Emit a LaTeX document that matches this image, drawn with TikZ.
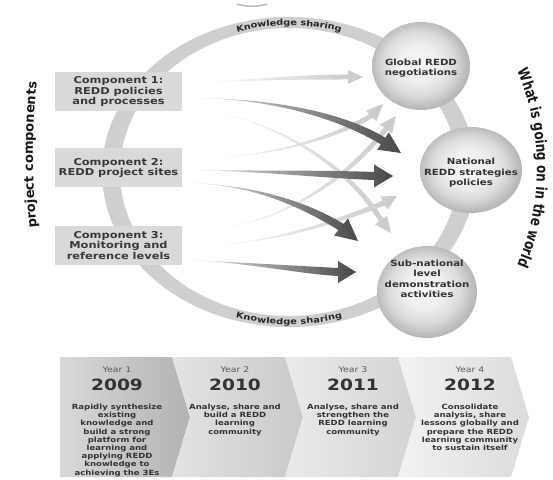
\documentclass[tikz,border=0pt]{standalone}
\usepackage{fontspec}
\setmainfont{DejaVu Sans}[FakeStretch=1.2]
\newfontfamily\plainsans{DejaVu Sans}
\newfontfamily\narrowsans{DejaVu Sans}[FakeStretch=0.8]
\usetikzlibrary{calc,decorations.text,shapes.geometric}

% soft grey sphere: light centre, darker rim
\pgfdeclareradialshading{spherefill}{\pgfpoint{-2bp}{2bp}}{%
  color(0bp)=(gray!6); color(10bp)=(gray!12); color(18bp)=(gray!28);
  color(23bp)=(gray!48); color(25bp)=(gray!56); color(50bp)=(gray!56)}

% Tapered, shaded arrow: #1 tail, #2/#3 controls, #4 head base, #5 tip,
% #6 shaft half-width at the head, #7 head half-width, #8 shading style
\newcommand\flowarrow[8]{%
  \coordinate (fa-l) at ($(#4)!#6!90:(#5)$);
  \coordinate (fa-r) at ($(#4)!#6!-90:(#5)$);
  \coordinate (fa-L) at ($(#4)!#7!90:(#5)$);
  \coordinate (fa-R) at ($(#4)!#7!-90:(#5)$);
  \shade[#8] (#1) .. controls (#2) and ($(#3)+(fa-l)-(#4)$) .. (fa-l)
    -- (fa-L) -- (#5) -- (fa-R) -- (fa-r)
    .. controls ($(#3)+(fa-r)-(#4)$) and (#2) .. (#1) -- cycle;
}

\begin{document}
\begin{tikzpicture}[x=1pt,y=1pt,
  compbox/.style={fill=gray!30, minimum width=127pt, minimum height=39pt,
    inner sep=0pt, align=center, text=black!78,
    font=\bfseries\fontsize{9.5}{10.5}\selectfont},
  sphere/.style={ellipse, shading=spherefill, inner sep=0pt},
  spheretext/.style={align=center, text=black!80,
    font=\bfseries\fontsize{8.5}{10.5}\selectfont},
  lightflow/.style={left color=white, right color=gray!42},
  darkflow/.style={left color=gray!18, right color=black!72},
  yearlabel/.style={text=black!65, font=\fontsize{7.8}{9}\selectfont},
  yearnum/.style={text=black!80, font=\bfseries\fontsize{15.5}{16}\selectfont},
  yeartext/.style={anchor=north, align=center, text=black!80, inner sep=0pt,
    font=\bfseries\fontsize{7.1}{8.2}\selectfont}]

\useasboundingbox (0,0) rectangle (553,479);
\fill[white] (0,0) rectangle (553,479);

% small arc at the top edge
\draw[gray!55, line width=1.5pt] (237,475) .. controls (245,472) and (259,472) .. (267,475);

% knowledge sharing ring
\fill[gray!38, even odd rule]
  (289,307) ellipse [x radius=187pt, y radius=155pt]
  (289,307) ellipse [x radius=169pt, y radius=144pt];
\path[decorate, decoration={text along path,
    text={|\bfseries\fontsize{8.2}{9}\selectfont|Knowledge sharing},
    text align=center, raise=-3pt, text color=black!85}]
  ($(289,307)+(150:178pt and 149.5pt)$)
  arc[start angle=150, end angle=30, x radius=178pt, y radius=149.5pt];
\path[decorate, decoration={text along path,
    text={|\bfseries\fontsize{8.2}{9}\selectfont|Knowledge sharing},
    text align=center, raise=-3pt, text color=black!85}]
  ($(289,307)+(232:178pt and 149.5pt)$)
  arc[start angle=232, end angle=308, x radius=178pt, y radius=149.5pt];

% side headings
\path[decorate, decoration={text along path,
    text={|\plainsans\bfseries\fontsize{13}{14}\selectfont|project components},
    text align=center, text color=black!90}]
  ($(733,324)+(188:700pt)$) arc[start angle=188, end angle=172, radius=700pt];
\path[decorate, decoration={text along path,
    text={|\narrowsans\bfseries\fontsize{15}{16}\selectfont|What is going on in the world},
    text align=center, text color=black!90}]
  ($(289,311)+(28:248pt)$) arc[start angle=28, end angle=-28, radius=248pt];

% arrow tails and tips
\coordinate (t11) at (190,395); \coordinate (t12) at (190,381); \coordinate (t13) at (190,369);
\coordinate (t21) at (190,322); \coordinate (t22) at (190,309); \coordinate (t23) at (190,296);
\coordinate (t31) at (190,247); \coordinate (t32) at (190,233); \coordinate (t33) at (190,219);
\coordinate (g1) at (363,402); \coordinate (g2) at (383,375); \coordinate (g3) at (396,363);
\coordinate (n1) at (401,326); \coordinate (n2) at (393,303); \coordinate (n3) at (397,283);
\coordinate (s1) at (391,246); \coordinate (s2) at (358,238); \coordinate (s3) at (356,207);

% light flows
\flowarrow{t11}{240,399}{300,402}{348,402}{g1}{2.5pt}{7pt}{lightflow}
\flowarrow{t13}{260,367}{345,319}{381,259}{s1}{2.5pt}{7.5pt}{lightflow}
\flowarrow{t21}{260,319}{330,339}{371,363}{g2}{2.5pt}{7.5pt}{lightflow}
\flowarrow{t31}{280,251}{345,299}{386,350}{g3}{2.5pt}{7.5pt}{lightflow}
\flowarrow{t32}{260,233}{330,254}{384,276}{n3}{2.5pt}{7.5pt}{lightflow}

% dark flows
\flowarrow{t12}{270,381}{340,364}{383,338}{n1}{4pt}{10.5pt}{darkflow}
\flowarrow{t22}{260,308}{320,305}{374,303}{n2}{4pt}{11.5pt}{darkflow}
\flowarrow{t23}{255,294}{305,274}{341,252}{s2}{4pt}{11pt}{darkflow}
\flowarrow{t33}{250,216}{300,209}{338,207}{s3}{4pt}{11pt}{darkflow}

% project components
\node[compbox] (comp1) at (118.5,387.5) {Component 1:\\REDD policies\\and processes};
\node[compbox] (comp2) at (118.5,311) {Component 2:\\REDD project sites};
\node[compbox] (comp3) at (118.5,233.5) {Component 3:\\Monitoring and\\reference levels};

% levels of action
\node[sphere, minimum width=98pt, minimum height=88pt] (glob) at (421,413) {};
\node[sphere, minimum width=102pt, minimum height=86pt] (nat) at (471,309) {};
\node[sphere, minimum width=100pt, minimum height=92pt] (sub) at (427,187) {};
\node[spheretext] (globtxt) at (421,411) {Global REDD\\negotiations};
\node[spheretext] (nattxt) at (471,306) {National\\REDD strategies\\policies};
\node[spheretext] (subtxt) at (427,200) {Sub-national\\level\\demonstration\\activities};

% timeline chevrons
\shade[left color=gray!30, right color=gray!60]
  (60,122) -- (172,122) -- (190,62) -- (172,2) -- (60,2) -- cycle;
\shade[left color=gray!22, right color=gray!42]
  (172,122) -- (285,122) -- (303,62) -- (285,2) -- (172,2) -- (190,62) -- cycle;
\shade[left color=gray!16, right color=gray!34]
  (285,122) -- (398,122) -- (416,62) -- (398,2) -- (285,2) -- (303,62) -- cycle;
\shade[left color=gray!10, right color=gray!28]
  (398,122) -- (511,122) -- (529,62) -- (511,2) -- (398,2) -- (416,62) -- cycle;

\node[yearlabel] (y1) at (117,109) {Year 1};
\node[yearnum] (y1n) at (117,94) {2009};
\node[yeartext] (y1t) at (117,75) {Rapidly synthesize\\existing\\knowledge and\\build a strong\\platform for\\learning and\\applying REDD\\knowledge to\\achieving the 3Es};

\node[yearlabel] (y2) at (235,109) {Year 2};
\node[yearnum] (y2n) at (235,94) {2010};
\node[yeartext] (y2t) at (235,75) {Analyse, share and\\build a REDD\\learning\\community};

\node[yearlabel] (y3) at (353,109) {Year 3};
\node[yearnum] (y3n) at (353,94) {2011};
\node[yeartext] (y3t) at (353,75) {Analyse, share and\\strengthen the\\REDD learning\\community};

\node[yearlabel] (y4) at (470,109) {Year 4};
\node[yearnum] (y4n) at (470,94) {2012};
\node[yeartext] (y4t) at (470,75) {Consolidate\\analysis, share\\lessons globally and\\prepare the REDD\\learning community\\to sustain itself};

\end{tikzpicture}
\end{document}
